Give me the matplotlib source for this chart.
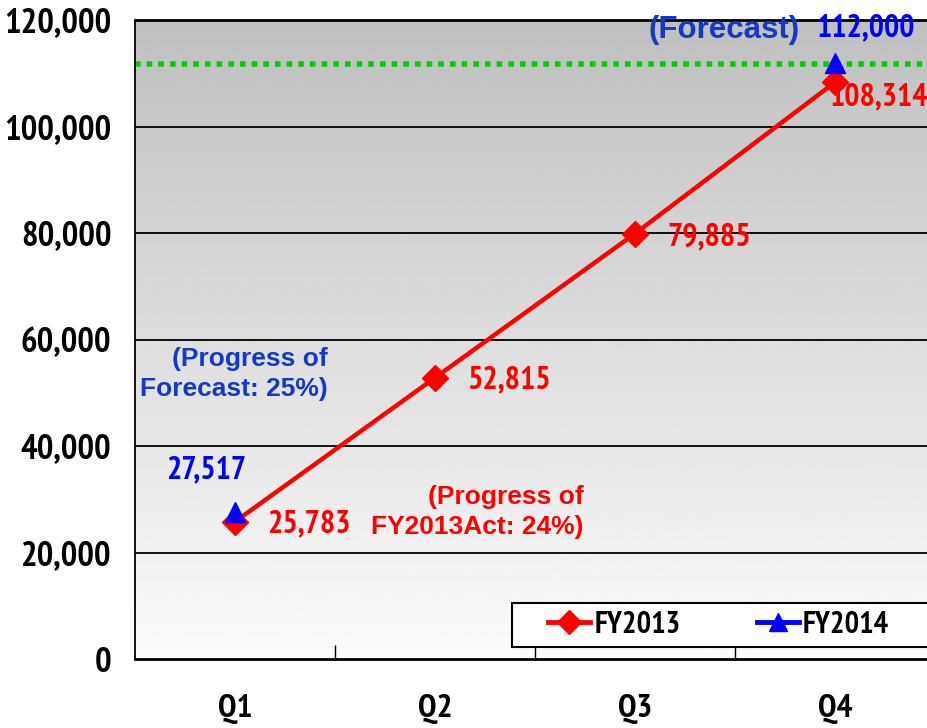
import matplotlib
matplotlib.use("Agg")
import matplotlib.pyplot as plt
from matplotlib import font_manager
from matplotlib.lines import Line2D
from matplotlib.patches import Rectangle
import numpy as np

quarters = ["Q1", "Q2", "Q3", "Q4"]
fy2013 = [25783, 52815, 79885, 108314]
fy2014_x = [0, 3]
fy2014 = [27517, 112000]
forecast_line = 111700
y_ticks = [0, 20000, 40000, 60000, 80000, 100000, 120000]

# a narrow bold face like Arial Narrow, if one is around
names = {f.name for f in font_manager.fontManager.ttflist}
narrow = "Liberation Sans"
for cand in ["Liberation Sans Narrow", "Arial Narrow", "Arimo Narrow",
             "PT Sans Narrow", "Archivo Narrow", "Roboto Condensed",
             "Open Sans Condensed", "Encode Sans Condensed", "Pragati Narrow"]:
    if cand in names:
        narrow = cand
        break
wide = "Liberation Sans"

RED = "#ff0000"
BLUE = "#0000ff"
BLUE2 = "#1438c8"

fig = plt.figure(figsize=(9.28, 7.28), dpi=100)
ax = fig.add_axes([135 / 928, 69 / 728, 800 / 928, 639 / 728])

# gradient background, gray at the top to white at the bottom
grad = np.linspace(0.75, 0.985, 256).reshape(-1, 1)
ax.imshow(grad, cmap="gray", vmin=0, vmax=1, extent=[0, 1, 0, 1],
          origin="upper", transform=ax.transAxes, aspect="auto", zorder=0)

ax.set_xlim(-0.5, 3.5)
ax.set_ylim(0, 120000)

for v in y_ticks[1:-1]:
    ax.axhline(v, color="black", lw=1.3, zorder=1)

ax.axhline(forecast_line, color="#00cc00", lw=4, ls=(0, (1, 1.1)), zorder=2)

ax.plot(range(len(quarters)), fy2013, color=RED, lw=3.2, marker="D",
        markersize=13, zorder=4)
ax.plot(fy2014_x, fy2014, color=BLUE, lw=0, marker="^", markersize=14, zorder=5)

num = dict(fontfamily=narrow, fontweight="bold", fontsize=23)
ax.text(3.155, 118500, "112,000", color=BLUE, ha="center", va="center", **num)
ax.text(2.825, 118200, "(Forecast)", color=BLUE2, ha="right", va="center",
        fontfamily=wide, fontweight="bold", fontsize=22.5)
ax.text(2.97, 105500, "108,314", color=RED, ha="left", va="center", **num)
ax.text(2.16, 79250, "79,885", color=RED, ha="left", va="center", **num)
ax.text(1.16, 52400, "52,815", color=RED, ha="left", va="center", **num)
ax.text(0.16, 25350, "25,783", color=RED, ha="left", va="center", **num)
ax.text(-0.145, 35500, "27,517", color=BLUE, ha="center", va="center", **num)

prog = dict(fontfamily=wide, fontweight="bold", fontsize=19,
            va="center", ha="right", multialignment="right", linespacing=1.3)
ax.text(0.465, 53500, "(Progress of\nForecast: 25%)", color=BLUE2, **prog)
ax.text(1.745, 27600, "(Progress of\nFY2013Act: 24%)", color=RED, **prog)

# axes styling
ax.set_yticks(y_ticks)
ax.set_yticklabels([f"{v:,}" for v in y_ticks], fontfamily=narrow,
                   fontweight="bold", fontsize=25)
ax.tick_params(axis="y", length=0, pad=17)
ax.set_xticks(range(len(quarters)))
ax.set_xticklabels(quarters, fontfamily=narrow, fontweight="bold", fontsize=24)
ax.set_xticks([0.5, 1.5, 2.5], minor=True)
ax.tick_params(axis="x", which="major", length=0, pad=25)
ax.tick_params(axis="x", which="minor", direction="in", length=10, width=1)
for side in ["left", "bottom", "top"]:
    ax.spines[side].set_color("black")
ax.spines["left"].set_linewidth(1.3)
ax.spines["bottom"].set_linewidth(2)
ax.spines["top"].set_linewidth(2)
ax.spines["right"].set_visible(False)

# legend box, runs off the right edge like the original
ax.add_patch(Rectangle((0.471, 0.019), 0.6, 0.069, transform=ax.transAxes,
                       facecolor="white", edgecolor="black", lw=1.5,
                       zorder=6, clip_on=False))
handles = [
    Line2D([], [], color=RED, lw=3.5, marker="D", markersize=12),
    Line2D([], [], color=BLUE, lw=3.5, marker="^", markersize=13),
]
leg = ax.legend(handles, ["FY2013", "FY2014"], loc="center left",
                bbox_to_anchor=(0.4815, 0.0535), ncol=2, frameon=False,
                handlelength=1.4, handletextpad=0.12, columnspacing=2.5,
                prop=dict(family=narrow, weight="bold", size=22))
leg.set_zorder(7)

fig.savefig("out.png", dpi=100)
